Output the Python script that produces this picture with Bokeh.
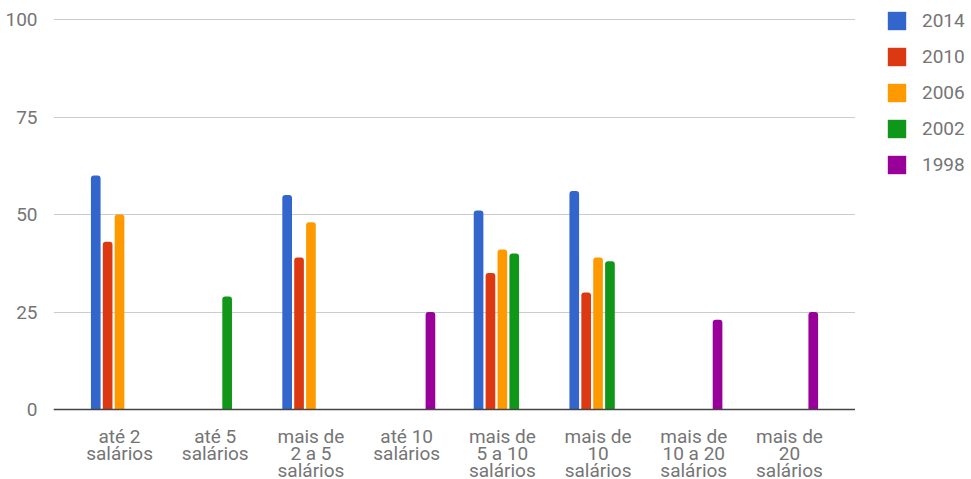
from bokeh.plotting import figure
from bokeh.layouts import row
from bokeh.models import ColumnDataSource, FactorRange, Range1d, FixedTicker, Legend, LegendItem, Span
from bokeh.transform import dodge
from bokeh.core.properties import value
from bokeh.embed import file_html
from bokeh.resources import INLINE

categories = ["até 2 salários", "até 5 salários", "mais de 2 a 5 salários", "até 10 salários",
              "mais de 5 a 10 salários", "mais de 10 salários", "mais de 10 a 20 salários",
              "mais de 20 salários"]
tick_labels = ["até 2\nsalários", "até 5\nsalários", "mais de\n2 a 5\nsalários", "até 10\nsalários",
               "mais de\n5 a 10\nsalários", "mais de\n10\nsalários", "mais de\n10 a 20\nsalários",
               "mais de\n20\nsalários"]
series_names = ["2014", "2010", "2006", "2002", "1998"]
v2014 = [60, None, 55, None, 51, 56, None, None]
v2010 = [43, None, 39, None, 35, 30, None, None]
v2006 = [50, None, 48, None, 41, 39, None, None]
v2002 = [None, 29, None, None, 40, 38, None, None]
v1998 = [None, None, None, 25, None, None, 23, 25]
y_ticks = [0, 25, 50, 75, 100]

series_values = [v2014, v2010, v2006, v2002, v1998]
colors = ["#3366cc", "#dc3912", "#ff9900", "#109618", "#990099"]
FONT = "Roboto"
GRAY = "#757575"
FS = "19px"

W, H = 971, 479
MAIN_W = 855
LEFT = 53
PX_PER_UNIT = 3.9
y_top = 100 + 19 / PX_PER_UNIT
y_bottom = y_top - H / PX_PER_UNIT

p = figure(width=MAIN_W, height=H, output_backend="svg", toolbar_location=None,
           x_range=FactorRange(factors=categories, range_padding=0.19, range_padding_units="absolute"),
           y_range=Range1d(y_bottom, y_top), x_axis_location=None,
           min_border_left=LEFT, min_border_right=0, min_border_top=0, min_border_bottom=0)
p.outline_line_color = None
p.xgrid.grid_line_color = None
p.ygrid.grid_line_color = "#cccccc"
p.ygrid.grid_line_width = 1
p.ygrid.ticker = FixedTicker(ticks=y_ticks)
p.yaxis.ticker = FixedTicker(ticks=y_ticks)
p.yaxis.axis_line_color = None
p.yaxis.major_tick_line_color = None
p.yaxis.minor_tick_line_color = None
p.yaxis.major_label_text_font = FONT
p.yaxis.major_label_text_font_size = FS
p.yaxis.major_label_text_color = GRAY
p.yaxis.major_label_standoff = 10

# category labels (multi-line) drawn below the baseline
lx, lt, loff = [], [], []
for c, lab in zip(categories, tick_labels):
    for k, line in enumerate(lab.split("\n")):
        lx.append(c)
        lt.append(line)
        loff.append(26.5 + k * 17.3)
lsrc = ColumnDataSource(data=dict(x=lx, text=lt, yo=loff))
p.text(x="x", y=0, text="text", y_offset="yo", source=lsrc, text_align="center",
       text_baseline="alphabetic", text_font=value(FONT), text_font_size=FS, text_color=GRAY)

for i, (name, vals, col) in enumerate(zip(series_names, series_values, colors)):
    xs = [c for c, v in zip(categories, vals) if v is not None]
    ys = [v for v in vals if v is not None]
    src = ColumnDataSource(data=dict(x=xs, top=ys))
    p.vbar(x=dodge("x", (i - 2) * 0.1243, range=p.x_range), top="top", bottom=0, width=0.101,
           source=src, fill_color=col, line_color=None, border_radius=(3, 3, 0, 0))

p.add_layout(Span(location=0, dimension="width", line_color="#444444", line_width=1.5))

# legend panel (proxy renderers of zero size, used only for the legend swatches)
p2 = figure(width=W - MAIN_W, height=H, output_backend="svg", toolbar_location=None,
            x_range=Range1d(0, 1), y_range=Range1d(0, 1), x_axis_location=None, y_axis_location=None,
            min_border_left=0, min_border_right=0, min_border_top=0, min_border_bottom=0)
p2.outline_line_color = None
p2.grid.visible = False
items = []
for name, col in zip(series_names, colors):
    r = p2.rect(x=[0], y=[0], width=0, height=0, fill_color=col, line_color=None)
    items.append(LegendItem(label=name, renderers=[r]))

GLYPH = 23
SP = 13
leg_h = 5 * GLYPH + 4 * SP
leg_top = 20.5 - GLYPH / 2
legend = Legend(items=items, location=(30, H - (leg_top + leg_h)), orientation="vertical",
                glyph_width=GLYPH, glyph_height=GLYPH, label_height=GLYPH, spacing=SP,
                label_standoff=14, padding=0, margin=0, border_line_color=None,
                background_fill_alpha=0,
                label_text_font=FONT, label_text_font_size=FS, label_text_color=GRAY)
p2.add_layout(legend, "center")

layout = row(p, p2, spacing=0)
open("out.html", "w").write(file_html(layout, INLINE))
